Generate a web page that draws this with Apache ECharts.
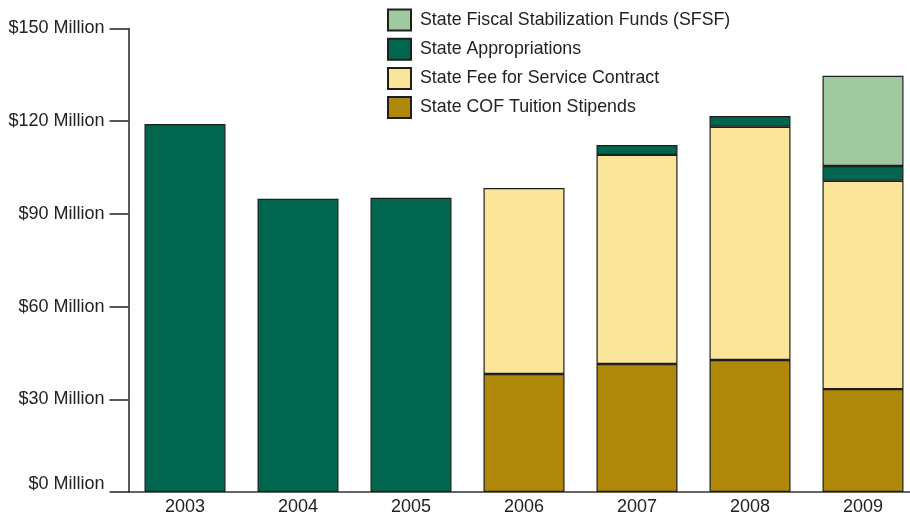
<!DOCTYPE html>
<html><head><meta charset="utf-8">
<script src="https://cdn.jsdelivr.net/npm/echarts@6/dist/echarts.min.js"></script>
<style>html,body{margin:0;padding:0;background:#fff}#c{width:910px;height:515px}</style>
</head><body><div id="c"></div>
<script>
var categories = ['2003','2004','2005','2006','2007','2008','2009'];
var cofStipends = [0, 0, 0, 38.2, 41.4, 42.7, 33.3];
var feeForService = [0, 0, 0, 60.2, 67.7, 75.5, 67.4];
var appropriations = [119.1, 94.9, 95.2, 0, 3.2, 3.5, 4.8];
var sfsf = [0, 0, 0, 0, 0, 0, 29.2];
var yTicks = [0, 30, 60, 90, 120, 150];

var font = 'Liberation Sans';
function ser(name, data, color) {
  return {
    name: name, type: 'bar', stack: 's', data: data.map(function(v){return v === 0 ? null : v;}),
    barWidth: 81,
    itemStyle: {color: color, borderColor: '#1e1e1e', borderWidth: 1.2},
    emphasis: {disabled: true}
  };
}
var chart = echarts.init(document.getElementById('c'));
chart.setOption({
  animation: false,
  grid: {left: 128.5, width: 791, top: 28.5, bottom: 23, outerBoundsMode: 'none', containLabel: false},
  legend: {
    orient: 'vertical', left: 387, top: 8.5, padding: 0, itemWidth: 23, itemHeight: 21, itemGap: 6.2,
    icon: 'rect', selectedMode: false,
    data: ['State Fiscal Stabilization Funds (SFSF)', 'State Appropriations', 'State Fee for Service Contract', 'State COF Tuition Stipends'],
    textStyle: {fontFamily: font, fontSize: 17.8, lineHeight: 21, color: '#222', padding: [0,0,0,4]}
  },
  xAxis: {
    type: 'category', data: categories,
    axisLine: {lineStyle: {color: '#333', width: 1.5}},
    axisTick: {show: false},
    axisLabel: {fontFamily: font, fontSize: 18, color: '#222', margin: 6}
  },
  yAxis: {
    type: 'value', min: yTicks[0], max: yTicks[yTicks.length-1], interval: 30,
    splitLine: {show: false},
    axisLine: {show: true, lineStyle: {color: '#222', width: 1.5}},
    axisTick: {show: true, length: 19, lineStyle: {color: '#222', width: 1.5}},
    axisLabel: {
      fontFamily: font, fontSize: 18, color: '#222', margin: 24,
      formatter: function(v){ return v === 0 ? '{z|$0 Million}' : '$' + v + ' Million'; },
      rich: {z: {fontFamily: font, fontSize: 18, color: '#222', padding: [0,0,16,0]}}
    }
  },
  series: [
    ser('State COF Tuition Stipends', cofStipends, '#b1890a'),
    ser('State Fee for Service Contract', feeForService, '#fbe598'),
    ser('State Appropriations', appropriations, '#00674e'),
    ser('State Fiscal Stabilization Funds (SFSF)', sfsf, '#a0c9a0')
  ]
});
</script></body></html>
